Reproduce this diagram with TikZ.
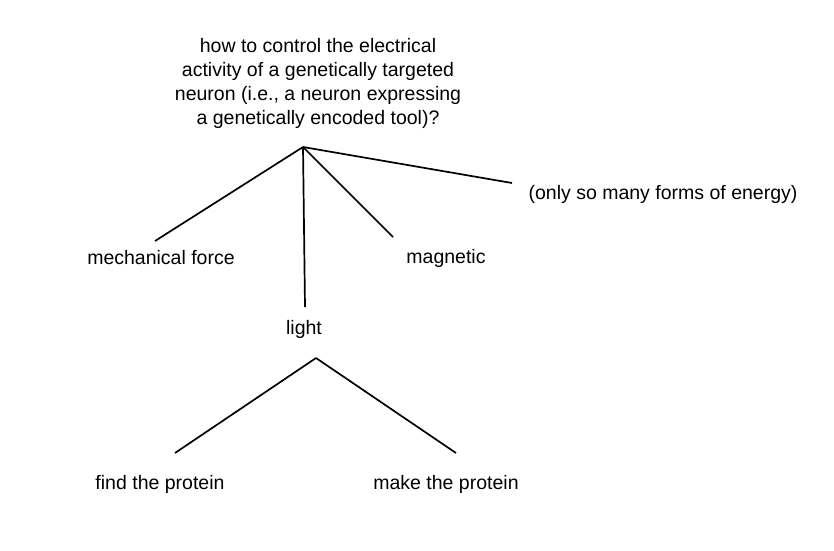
\documentclass[tikz,border=0pt]{standalone}
\usepackage{fontspec}
\setmainfont{Liberation Sans}
\begin{document}
\begin{tikzpicture}[x=1pt,y=-1pt,
  lbl/.style={font=\fontsize{19.5}{24}\selectfont, inner sep=0pt, align=center},
  edge/.style={line width=1.7pt, black}]
\useasboundingbox (0,0) rectangle (834,550);
\node[lbl] (q) at (318,83) {how to control the electrical\\activity of a genetically targeted\\neuron (i.e., a neuron expressing\\a genetically encoded tool)?};
\node[lbl] (mech) at (161,258) {mechanical force};
\node[lbl] (mag) at (446,258) {magnetic};
\node[lbl] (light) at (304,329) {light};
\node[lbl] (only) at (663,194) {(only so many forms of energy)};
\node[lbl] (find) at (160,484) {find the protein};
\node[lbl] (make) at (446,484) {make the protein};
\coordinate (a1) at (303,147);
\coordinate (e1) at (155,241);
\coordinate (e2) at (305,307);
\coordinate (e3) at (393,237);
\coordinate (e4) at (512,183);
\coordinate (a2) at (316,358);
\coordinate (e5) at (175,453);
\coordinate (e6) at (456,453);
\draw[edge] (a1) -- (e1);
\draw[edge] (a1) -- (e2);
\draw[edge] (a1) -- (e3);
\draw[edge] (a1) -- (e4);
\draw[edge] (a2) -- (e5);
\draw[edge] (a2) -- (e6);
\end{tikzpicture}
\end{document}
